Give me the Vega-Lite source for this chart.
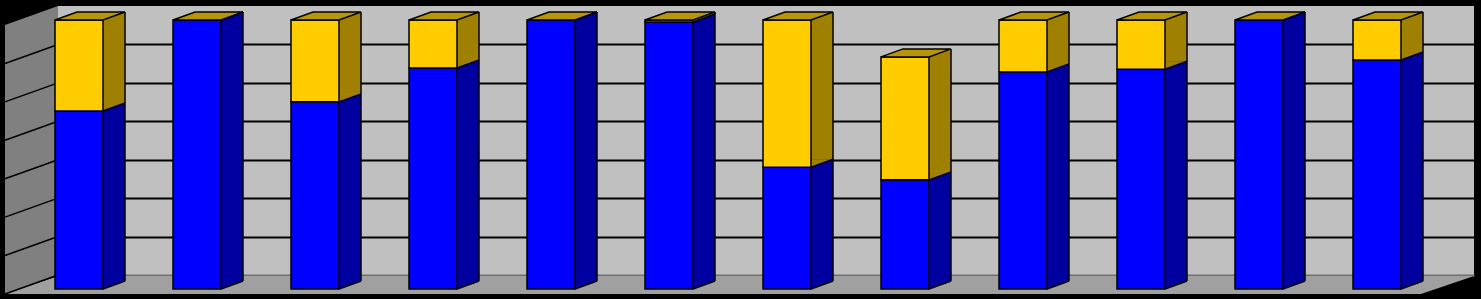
{
  "$schema": "https://vega.github.io/schema/vega-lite/v6.json",
  "width": 1416,
  "height": 269,
  "autosize": {"type": "none"},
  "padding": {"left": 58, "top": 6, "right": 7, "bottom": 24},
  "background": "#000000",
  "config": {"view": {"fill": "#C0C0C0", "stroke": null}},
  "layer": [
    {
      "data": {"values": [{"g": 0}]},
      "layer": [
        {
          "mark": {"type": "point", "shape": "M-59,0L-112,19L-112,-250L-59,-269Z", "size": 4, "filled": true, "fill": "#808080", "strokeWidth": 0, "opacity": 1},
          "encoding": {
            "x": {"datum": 1, "type": "ordinal", "scale": {"type": "band", "paddingInner": 0, "paddingOuter": 0}, "axis": null},
            "y": {"datum": 0, "type": "quantitative", "scale": {"domain": [0, 70], "nice": false}, "axis": {"values": [0, 10, 20, 30, 40, 50, 60], "grid": true, "labels": false, "ticks": false, "domain": false, "title": null, "gridColor": {"condition": {"test": "datum.value === 0", "value": "#707070"}, "value": "#000000"}, "gridWidth": 2, "gridOpacity": 1}}
          }
        },
        {
          "mark": {"type": "point", "shape": "M-112,19L-59,1L1357,1L1304,19Z", "size": 4, "filled": true, "fill": "#A0A0A0", "strokeWidth": 0, "opacity": 1},
          "encoding": {
            "x": {"datum": 1, "type": "ordinal"},
            "y": {"datum": 0, "type": "quantitative"}
          }
        }
      ]
    },
    {
      "data": {"values": [{"v": 0}, {"v": 10}, {"v": 20}, {"v": 30}, {"v": 40}, {"v": 50}, {"v": 60}]},
      "mark": {"type": "point", "shape": "M-59,0L-112,19", "size": 4, "filled": false, "color": "#000000", "strokeWidth": 1.5, "opacity": 1},
      "encoding": {
        "x": {"datum": 1, "type": "ordinal"},
        "y": {"field": "v", "type": "quantitative"}
      }
    },
    {
      "data": {"values": [
        {"cat": 1, "series": "A", "value": 46.3}, {"cat": 1, "series": "B", "value": 23.7},
        {"cat": 2, "series": "A", "value": 70}, {"cat": 2, "series": "B", "value": 0},
        {"cat": 3, "series": "A", "value": 48.7}, {"cat": 3, "series": "B", "value": 21.3},
        {"cat": 4, "series": "A", "value": 57.5}, {"cat": 4, "series": "B", "value": 12.5},
        {"cat": 5, "series": "A", "value": 70}, {"cat": 5, "series": "B", "value": 0},
        {"cat": 6, "series": "A", "value": 69.5}, {"cat": 6, "series": "B", "value": 0.5},
        {"cat": 7, "series": "A", "value": 31.7}, {"cat": 7, "series": "B", "value": 38.3},
        {"cat": 8, "series": "A", "value": 28.4}, {"cat": 8, "series": "B", "value": 32.0},
        {"cat": 9, "series": "A", "value": 56.5}, {"cat": 9, "series": "B", "value": 13.5},
        {"cat": 10, "series": "A", "value": 57.2}, {"cat": 10, "series": "B", "value": 12.8},
        {"cat": 11, "series": "A", "value": 70}, {"cat": 11, "series": "B", "value": 0},
        {"cat": 12, "series": "A", "value": 59.6}, {"cat": 12, "series": "B", "value": 10.4}
      ]},
      "transform": [
        {"stack": "value", "groupby": ["cat"], "sort": [{"field": "series", "order": "ascending"}], "as": ["lo", "hi"]}
      ],
      "layer": [
        {
          "mark": {"type": "bar", "width": 22, "xOffset": -3, "yOffset": 6, "y2Offset": 6, "strokeWidth": 0},
          "encoding": {
            "x": {"field": "cat", "type": "ordinal"},
            "y": {"field": "lo", "type": "quantitative"},
            "y2": {"field": "hi"},
            "fill": {"condition": {"test": "datum.series === 'A'", "value": "#0000A0"}, "value": "#A08000"}
          }
        },
        {
          "mark": {"type": "point", "shape": "M-14,6L-14,14L8,6Z", "size": 4, "filled": true, "strokeWidth": 0, "opacity": 1},
          "encoding": {
            "x": {"field": "cat", "type": "ordinal"},
            "y": {"field": "lo", "type": "quantitative"},
            "fill": {"condition": {"test": "datum.series === 'A'", "value": "#0000A0"}, "value": "#A08000"}
          }
        },
        {
          "mark": {"type": "point", "shape": "M-14,14L8,6", "size": 4, "filled": false, "color": "#000000", "strokeWidth": 1.5, "opacity": 1},
          "encoding": {
            "x": {"field": "cat", "type": "ordinal"},
            "y": {"field": "lo", "type": "quantitative"}
          }
        },
        {
          "transform": [{"filter": "datum.series === 'B'"}],
          "mark": {"type": "rule", "xOffset": 8, "yOffset": 6, "y2Offset": 6, "color": "#000000", "strokeWidth": 1.5},
          "encoding": {
            "x": {"field": "cat", "type": "ordinal"},
            "y": {"field": "hi", "type": "quantitative"},
            "y2": {"datum": 0}
          }
        },
        {
          "mark": {"type": "bar", "width": 48, "xOffset": -38, "yOffset": 14, "y2Offset": 14, "stroke": "#000000", "strokeWidth": 1.5},
          "encoding": {
            "x": {"field": "cat", "type": "ordinal"},
            "y": {"field": "lo", "type": "quantitative"},
            "y2": {"field": "hi"},
            "fill": {"condition": {"test": "datum.series === 'A'", "value": "#0000FF"}, "value": "#FFCC00"}
          }
        },
        {
          "transform": [{"filter": "datum.series === 'B'"}],
          "mark": {"type": "point", "shape": "M-62,14L-14,14L8,6L-40,6Z", "size": 4, "filled": true, "fill": "#B8960A", "stroke": "#000000", "strokeWidth": 1.5, "opacity": 1},
          "encoding": {
            "x": {"field": "cat", "type": "ordinal"},
            "y": {"field": "hi", "type": "quantitative"}
          }
        }
      ]
    }
  ]
}
